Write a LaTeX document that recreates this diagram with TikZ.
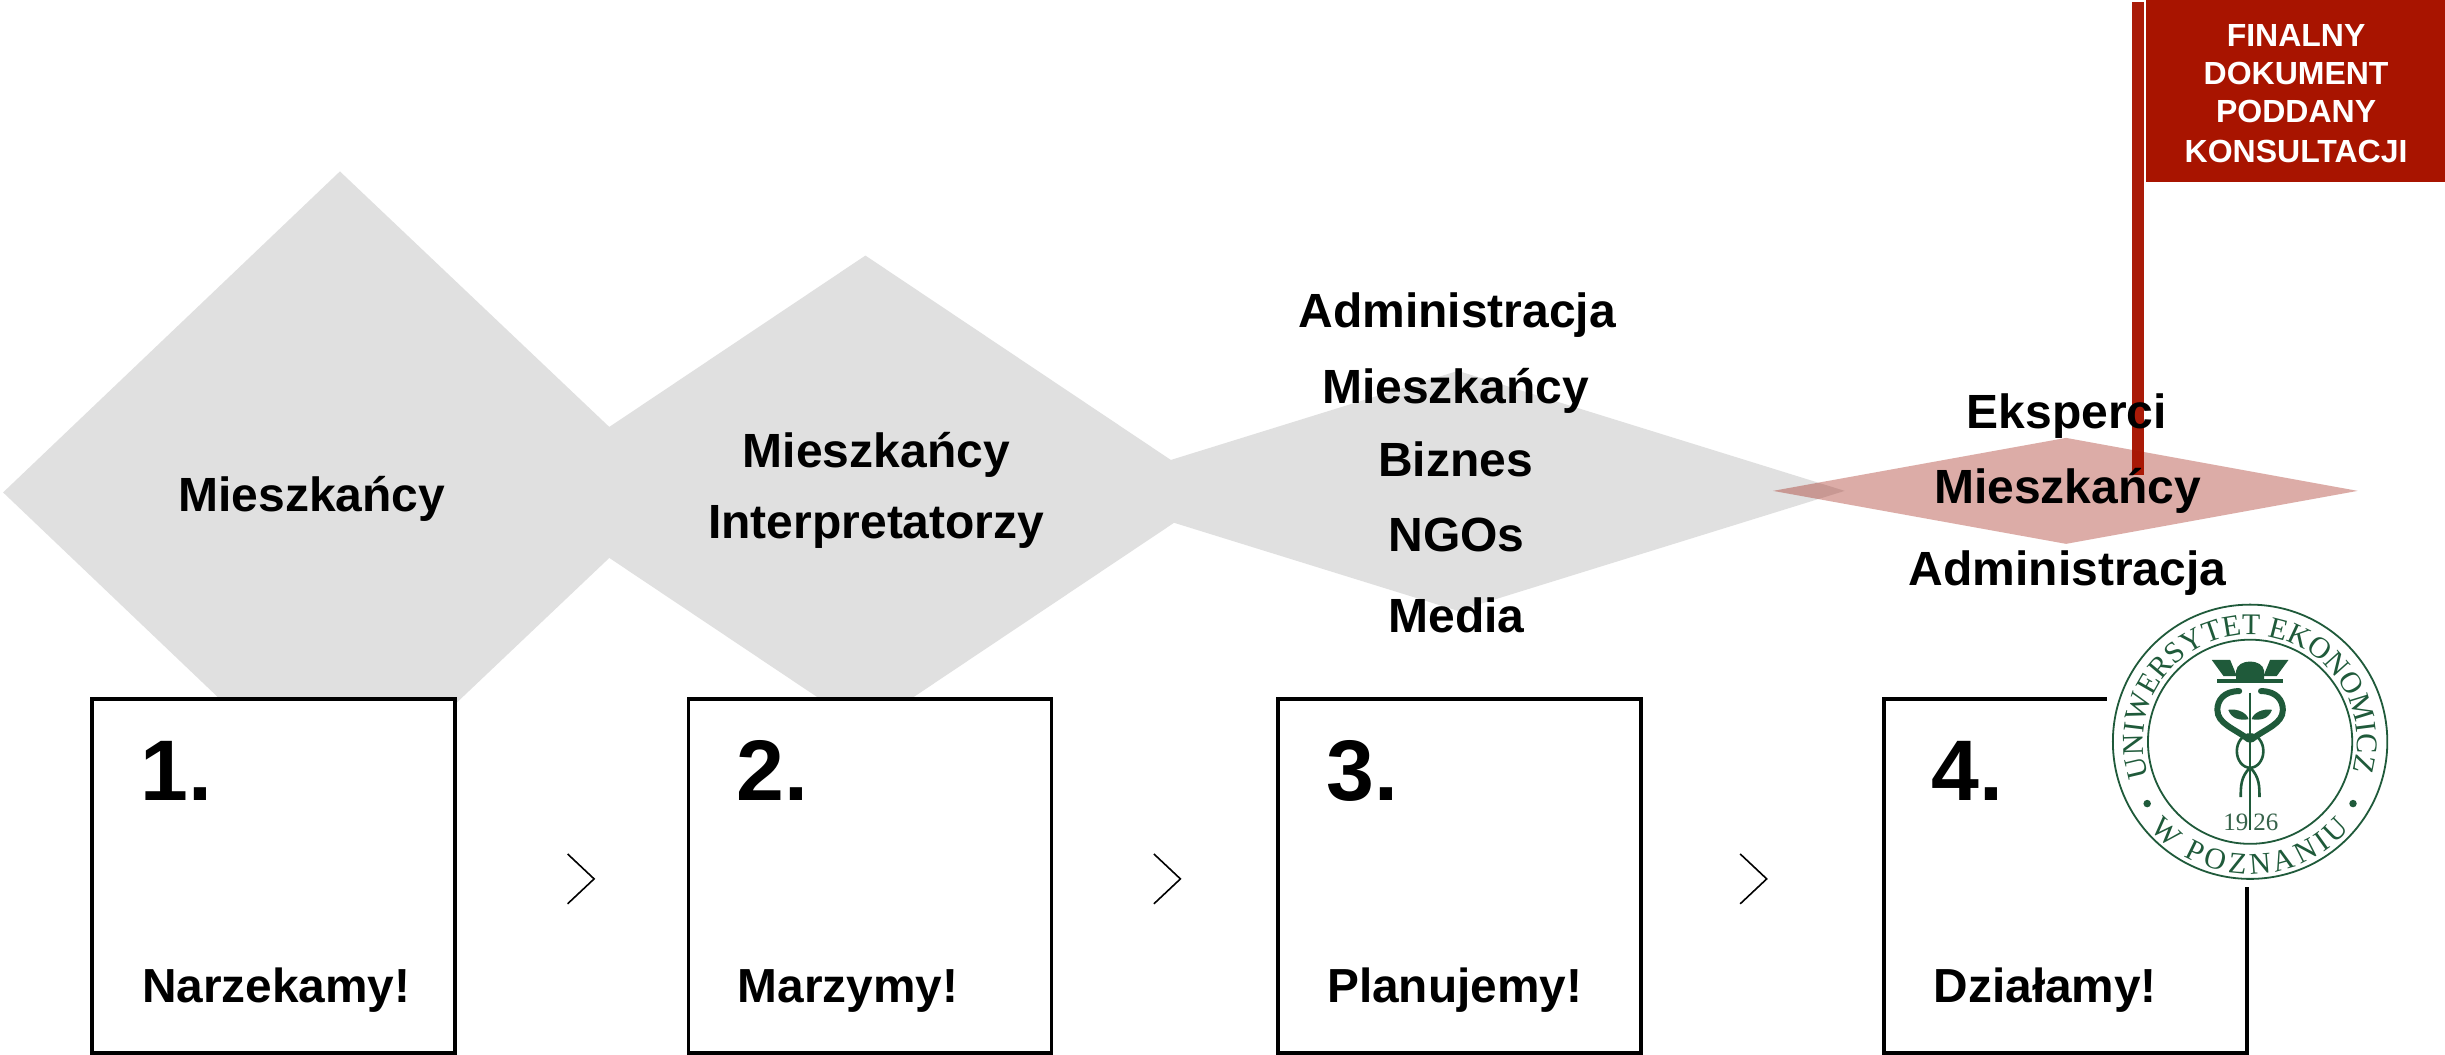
\documentclass[tikz,border=0pt]{standalone}
\usepackage{fontspec}
\setmainfont{Liberation Sans}
\newfontfamily\serifl{Liberation Serif}
\usetikzlibrary{decorations.text}
\definecolor{gr}{HTML}{E0E0E0}
\definecolor{rd}{HTML}{A81400}
\definecolor{rosec}{HTML}{9E1A0C}
\definecolor{lg}{HTML}{1F5A3A}
\tikzset{
 lab/.style={font=\fontsize{48}{48}\selectfont\bfseries,text=black,inner sep=0pt},
 stepbox/.style={draw=black,line width=3.7pt,fill=white,minimum width=363pt,minimum height=354pt,inner sep=0pt},
 numtxt/.style={font=\fontsize{86}{86}\selectfont\bfseries,inner sep=0pt,anchor=base west},
 captxt/.style={font=\fontsize{47.8}{48}\selectfont\bfseries,inner sep=0pt,anchor=base west},
 wt/.style={font=\fontsize{32}{32}\selectfont\bfseries,text=white,inner sep=0pt},
 chev/.style={draw=black,line width=1.6pt},
 logoline/.style={draw=lg,line width=1.8pt},
 snake/.style={draw=lg,line width=6pt,line cap=round},
 thinsnake/.style={draw=lg,line width=2.6pt},
}
\begin{document}
\begin{tikzpicture}[x=1.5593pt,y=-1.5583pt]
\useasboundingbox (0,0) rectangle (1568,677);
\fill[white] (0,0) rectangle (1568,677);
% diamonds
\fill[gr] (2,316) -- (218,110) -- (435,316) -- (218,522) -- cycle;
\fill[gr] (328,316) -- (555,164) -- (782,316) -- (555,468) -- cycle;
\fill[gr] (687,315) -- (935,238) -- (1183,315) -- (935,392) -- cycle;
\fill[rosec,opacity=.36] (1137,315) -- (1325,281) -- (1512,315) -- (1325,349) -- cycle;
% boxes
\node[stepbox] (b1) at (175.5,562) {};
\node[stepbox] (b2) at (558,562) {};
\node[stepbox] (b3) at (936,562) {};
\node[stepbox] (b4) at (1324.5,562) {};
% chevrons
\draw[chev] (364,548) -- (381,564) -- (364,580);
\draw[chev] (740,548) -- (757,564) -- (740,580);
\draw[chev] (1116,548) -- (1133,564) -- (1116,580);
% box text
\node[numtxt] (n1) at (90,514) {1.};
\node[numtxt] (n2) at (472,514) {2.};
\node[numtxt] (n3) at (850.5,514) {3.};
\node[numtxt] (n4) at (1238.5,514) {4.};
\node[captxt] (c1) at (91,643) {Narzekamy!};
\node[captxt] (c2) at (473,643) {Marzymy!};
\node[captxt] (c3) at (851,643) {Planujemy!};
\node[captxt] (c4) at (1240,643) {Działamy!};
% labels
\node[lab] (l1) at (200,320) {Mieszkańcy};
\node[lab] (l2a) at (562,292) {Mieszkańcy};
\node[lab] (l2b) at (562,338) {Interpretatorzy};
\node[lab] (l3a) at (934.5,202) {Administracja};
\node[lab] (l3b) at (933.5,251) {Mieszkańcy};
\node[lab] (l3c) at (933.5,295) {Biznes};
\node[lab] (l3d) at (934,343) {NGOs};
\node[lab] (l3e) at (934,395) {Media};
% red bar and box
\fill[rd,opacity=.97] (1367,1) rectangle (1375,305);
\fill[rd] (1376,0) rectangle (1568,117);
\node[wt] (w1) at (1472.5,23) {FINALNY};
\node[wt] (w2) at (1472.5,47) {DOKUMENT};
\node[wt] (w3) at (1472.5,71.5) {PODDANY};
\node[wt] (w4) at (1472.5,97) {KONSULTACJI};
\node[lab] (l4a) at (1325.5,267) {Eksperci};
\node[lab] (l4b) at (1326,315) {Mieszkańcy};
\node[lab] (l4c) at (1326,368) {Administracja};
% logo
\begin{scope}[shift={(1443,476)},x=1.5593pt,y=1.5583pt]
\fill[white] (-92,-93.5) rectangle (100,88);
\draw[logoline] (0,0) circle [radius=88];
\draw[logoline] (0,0) circle [radius=65.5];
\path[decorate,decoration={text along path,text align={fit to path},
 text={|\fontsize{30}{30}\serifl\color{lg}|UNIWERSYTET EKONOMICZNY}}]
 (199:68.5) arc[start angle=199,end angle=-18,radius=68.5];
\path[decorate,decoration={text along path,text align={fit to path},
 text={|\fontsize{30}{30}\serifl\color{lg}|W POZNANIU}}]
 (221:85) arc[start angle=221,end angle=319,radius=85];
\fill[lg] (211:77) circle [radius=2.4];
\fill[lg] (329:77) circle [radius=2.4];
\begin{scope}[yshift=1.5*1.5583pt]
% hat
\fill[lg] (-9,38) -- (-9,44) .. controls (-8,52) and (8,52) .. (9,44) -- (9,38) -- cycle;
\fill[lg] (-24.6,51) -- (-12.8,51) -- (-8.5,40.6) -- (-17,40.6) -- cycle;
\fill[lg] (24.6,51) -- (12.8,51) -- (8.5,40.6) -- (17,40.6) -- cycle;
\fill[lg] (-21,36) rectangle (21,38.5);
% snakes
\draw[snake] (-7,31) .. controls (-17,31) and (-21,25) .. (-21,19) .. controls (-21,10) and (-10,7) .. (-1,0);
\draw[snake] (7,31) .. controls (17,31) and (21,25) .. (21,19) .. controls (21,10) and (10,7) .. (1,0);
\draw[thinsnake] (0,-7.5) ellipse [x radius=8.5,y radius=10.7];
\draw[thinsnake] (0,-18) .. controls (-6,-24) and (-6,-30) .. (-6,-37);
\draw[thinsnake] (0,-18) .. controls (6,-24) and (6,-30) .. (6,-37);
% staff and leaves
\draw[draw=lg,line width=2.2pt] (0,30) -- (0,-58);
\fill[lg] (-14,19) .. controls (-8,20) and (-2,17) .. (-1,13) .. controls (-6,12) and (-12,13) .. (-14,19) -- cycle;
\fill[lg] (14,19) .. controls (8,20) and (2,17) .. (1,13) .. controls (6,12) and (12,13) .. (14,19) -- cycle;
% year
\node[font=\fontsize{25}{25}\serifl,text=lg!75!gray,inner sep=0pt,anchor=east] (y19) at (-1,-53) {19};
\node[font=\fontsize{25}{25}\serifl,text=lg!75!gray,inner sep=0pt,anchor=west] (y26) at (2,-53) {26};
\end{scope}
\end{scope}
\end{tikzpicture}
\end{document}
